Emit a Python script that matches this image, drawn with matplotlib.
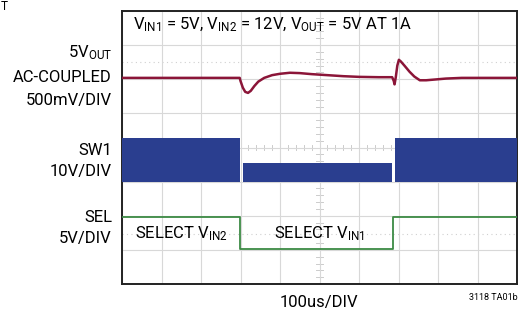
import matplotlib
matplotlib.use("Agg")
import matplotlib.pyplot as plt

W, H = 523, 312

# time in us (100us/DIV, 10 divisions), amplitude in scope divisions (0..8)
out_t = [0, 298, 300, 306, 312, 319, 326, 335, 345, 360, 380, 400, 425, 450,
         480, 520, 560, 600, 650, 684, 688, 690, 693, 697, 701, 706, 715, 728,
         740, 754, 770, 790, 820, 860, 1000]
out_v = [6.04, 6.04, 5.95, 5.75, 5.63, 5.60, 5.66, 5.80, 5.93, 6.04, 6.12,
         6.16, 6.19, 6.18, 6.15, 6.12, 6.09, 6.07, 6.06, 6.06, 5.95, 5.85,
         6.05, 6.40, 6.57, 6.52, 6.40, 6.22, 6.08, 5.97, 5.97, 5.99, 6.02,
         6.04, 6.04]

# SW1 switching envelope: (start, end, top), common bottom
sw_segments = [(0, 299, 4.28), (306, 684, 3.55), (691, 1000, 4.28)]
sw_bottom = 2.99

sel_t = [0, 299, 299, 686, 686, 1000]
sel_v = [1.96, 1.96, 1.03, 1.03, 1.96, 1.96]

plt.rcParams['font.family'] = ['Roboto', 'DejaVu Sans']
plt.rcParams['mathtext.fontset'] = 'custom'
plt.rcParams['mathtext.rm'] = 'Roboto'
plt.rcParams['mathtext.it'] = 'Roboto'

fig = plt.figure(figsize=(W / 100, H / 100), dpi=100)
ax = fig.add_axes([122 / W, 1 - 284 / H, (517 - 122) / W, (284 - 11) / H])
ax.set_xlim(0, 1000)
ax.set_ylim(0, 8)
ax.set_xticks(range(0, 1001, 100))
ax.set_yticks(range(0, 9))
ax.tick_params(length=0, labelbottom=False, labelleft=False)
ax.grid(True, color='#d8d8d8', lw=0.8)
for s in ax.spines.values():
    s.set_color('#222222')
    s.set_linewidth(1.4)

# center cross minor ticks
for i in range(41):
    y = i * 0.2
    ax.plot([490, 510], [y, y], color='#cccccc', lw=0.7, zorder=1)
for i in range(51):
    x = i * 20
    ax.plot([x, x], [3.93, 4.07], color='#cccccc', lw=0.7, zorder=1)

# faint dotted reference lines
ax.axhline(6.5, color='#d0d0d0', lw=0.8, ls=(0, (1, 3)), zorder=1)
ax.axhline(1.47, color='#d0d0d0', lw=0.8, ls=(0, (1, 3)), zorder=1)

ax.plot(out_t, out_v, color='#8b1538', lw=1.8, zorder=3)
for t0, t1, top in sw_segments:
    ax.fill_between([t0, t1], [sw_bottom, sw_bottom], [top, top],
                    color='#2a3e8f', lw=0, zorder=3)
ax.plot(sel_t, sel_v, color='#3c8a44', lw=1.3, zorder=3)

def px(x, y):
    return x / W, 1 - y / H

fs = 12
fig.text(*px(133, 25), r'V$_{\rm IN1}$ = 5V, V$_{\rm IN2}$ = 12V, V$_{\rm OUT}$ = 5V AT 1A',
         fontsize=fs, ha='left', va='center')

fig.text(*px(112, 53), r'5V$_{\rm OUT}$', fontsize=fs, ha='right', va='center')
fig.text(*px(112, 78), 'AC-COUPLED', fontsize=fs, ha='right', va='center')
fig.text(*px(112, 101), '500mV/DIV', fontsize=fs, ha='right', va='center')
fig.text(*px(112, 150), 'SW1', fontsize=fs, ha='right', va='center')
fig.text(*px(112, 171), '10V/DIV', fontsize=fs, ha='right', va='center')
fig.text(*px(112, 218), 'SEL', fontsize=fs, ha='right', va='center')
fig.text(*px(112, 238), '5V/DIV', fontsize=fs, ha='right', va='center')

fig.text(*px(135, 234), r'SELECT V$_{\rm IN2}$', fontsize=fs, ha='left', va='center')
fig.text(*px(274, 234), r'SELECT V$_{\rm IN1}$', fontsize=fs, ha='left', va='center')

fig.text(*px(319, 302), '100us/DIV', fontsize=fs, ha='center', va='center')
fig.text(*px(518, 297), '3118 TA01b', fontsize=6.5, ha='right', va='center')
fig.text(*px(1, 7), 'T', fontsize=8.5, ha='left', va='center')

fig.savefig('out.png', dpi=100)
